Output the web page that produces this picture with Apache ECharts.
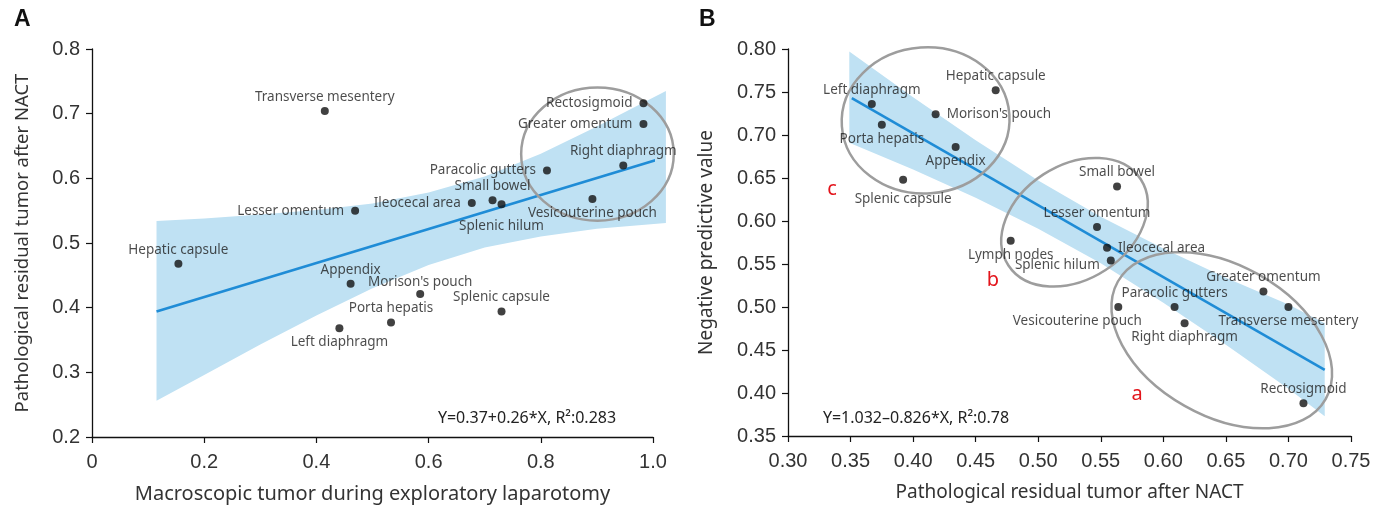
<!DOCTYPE html>
<html>
<head>
<meta charset="utf-8">
<title>NACT residual tumor</title>
<script src="https://cdn.jsdelivr.net/npm/echarts@6/dist/echarts.min.js"></script>
<style>
  * { margin: 0; padding: 0; }
  body { background: #fff; }
  #main { width: 1386px; height: 510px; }
</style>
</head>
<body>
<div id="main"></div>
<script type="text/javascript">
// ---- panel A: macroscopic tumor vs pathological residual tumor ----
var aNames = ['Transverse mesentery', 'Rectosigmoid', 'Greater omentum', 'Right diaphragm',
  'Paracolic gutters', 'Small bowel', 'Ileocecal area', 'Splenic hilum', 'Lesser omentum',
  'Vesicouterine pouch', 'Hepatic capsule', 'Appendix', "Morison's pouch", 'Splenic capsule',
  'Porta hepatis', 'Left diaphragm'];
var aX = [0.415, 0.983, 0.983, 0.947, 0.811, 0.714, 0.677, 0.730, 0.469, 0.892, 0.154, 0.461, 0.585, 0.730, 0.533, 0.441];
var aY = [0.704, 0.716, 0.684, 0.620, 0.612, 0.566, 0.562, 0.560, 0.550, 0.568, 0.468, 0.437, 0.421, 0.394, 0.377, 0.368];
var aFitX = [0.115, 1.023];
var aFitY = [0.394, 0.633];
var aBandX = [0.115, 0.2, 0.3, 0.4, 0.5, 0.6, 0.7, 0.8, 0.9, 1.023];
var aBandLo = [0.256, 0.296, 0.343, 0.388, 0.430, 0.466, 0.493, 0.510, 0.522, 0.531];
var aBandHi = [0.534, 0.538, 0.544, 0.551, 0.561, 0.578, 0.603, 0.638, 0.680, 0.735];
// ellipse: centre x, centre y, radius along x, radius along y, tilt (deg)
var aCircles = [[0.901, 0.6375, 0.136, 0.103, 0]];
var aXTicks = [0, 1, 0.2];          // min, max, step
var aYTicks = [0.2, 0.8, 0.1];

// ---- panel B: pathological residual tumor vs NPV ----
var bNames = ['Hepatic capsule', 'Left diaphragm', "Morison's pouch", 'Porta hepatis', 'Appendix',
  'Splenic capsule', 'Small bowel', 'Lesser omentum', 'Lymph nodes', 'Ileocecal area', 'Splenic hilum',
  'Greater omentum', 'Paracolic gutters', 'Vesicouterine pouch', 'Transverse mesentery',
  'Right diaphragm', 'Rectosigmoid'];
var bX = [0.466, 0.367, 0.418, 0.375, 0.434, 0.392, 0.563, 0.547, 0.478, 0.555, 0.558, 0.680, 0.609, 0.564, 0.700, 0.617, 0.712];
var bY = [0.752, 0.736, 0.724, 0.712, 0.686, 0.648, 0.640, 0.593, 0.577, 0.569, 0.554, 0.518, 0.500, 0.500, 0.500, 0.481, 0.388];
var bFitX = [0.351, 0.729];
var bFitY = [0.743, 0.427];
var bBandX = [0.349, 0.40, 0.45, 0.50, 0.55, 0.60, 0.65, 0.70, 0.729];
var bBandLo = [0.691, 0.660, 0.627, 0.591, 0.551, 0.505, 0.456, 0.405, 0.373];
var bBandHi = [0.797, 0.744, 0.694, 0.647, 0.605, 0.568, 0.534, 0.503, 0.481];
var bCircles = [
  [0.410, 0.717, 0.0671, 0.0849, 4],    // c
  [0.529, 0.5986, 0.0631, 0.0663, 33],  // b
  [0.6467, 0.4613, 0.0954, 0.0876, -29.5] // a
];
var bXTicks = [0.30, 0.75, 0.05];
var bYTicks = [0.35, 0.80, 0.05];

// label placement: [position, dx, dy]
var aPlace = {
  'Transverse mesentery': ['top'], 'Rectosigmoid': ['left'], 'Greater omentum': ['left'],
  'Right diaphragm': ['top'], 'Paracolic gutters': ['left'], 'Small bowel': ['top'],
  'Ileocecal area': ['left'], 'Splenic hilum': ['bottom', 0, 8], 'Lesser omentum': ['left'],
  'Vesicouterine pouch': ['bottom'], 'Hepatic capsule': ['top'], 'Appendix': ['top'],
  "Morison's pouch": ['top', 0, 2], 'Splenic capsule': ['top'], 'Porta hepatis': ['top'],
  'Left diaphragm': ['bottom']
};
var bPlace = {
  'Hepatic capsule': ['top'], 'Left diaphragm': ['top'], "Morison's pouch": ['right'],
  'Porta hepatis': ['bottom'], 'Appendix': ['bottom'], 'Splenic capsule': ['bottom', 0, 5],
  'Small bowel': ['top'], 'Lesser omentum': ['top'], 'Lymph nodes': ['bottom'],
  'Ileocecal area': ['right'], 'Splenic hilum': ['left', 0, 5], 'Greater omentum': ['top'],
  'Paracolic gutters': ['top'], 'Vesicouterine pouch': ['bottom', -41, 0],
  'Transverse mesentery': ['bottom'], 'Right diaphragm': ['bottom'], 'Rectosigmoid': ['top']
};

var TICK_FONT = '"Liberation Sans", Arial, sans-serif';
var TEXT_FONT = '"Noto Sans", "Open Sans", sans-serif';

var myChart = echarts.init(document.getElementById('main'), null, { renderer: 'canvas' });

function valueAxis(idx, ticks, digits, name, gap, labelMargin, nameSize) {
  return {
    type: 'value',
    gridIndex: idx,
    min: ticks[0],
    max: ticks[1],
    interval: ticks[2],
    name: name,
    nameLocation: 'middle',
    nameGap: gap,
    nameTextStyle: { fontFamily: TEXT_FONT, fontSize: nameSize, color: '#333' },
    axisLine: { show: true, onZero: false, lineStyle: { color: '#111', width: 1.3 } },
    axisTick: { show: true, length: 6, lineStyle: { color: '#111', width: 1.2 } },
    splitLine: { show: false },
    axisLabel: {
      margin: labelMargin,
      fontFamily: TICK_FONT,
      fontSize: 20,
      color: '#333',
      formatter: function (v) { return v === 0 ? '0' : v.toFixed(digits); }
    }
  };
}

function scatterData(names, xs, ys, place) {
  return names.map(function (n, i) {
    var p = place[n] || ['top'];
    var side = p[0] === 'left' || p[0] === 'right';
    return {
      name: n,
      value: [xs[i], ys[i]],
      label: { position: p[0], distance: side ? 7 : 3, offset: [p[1] || 0, p[2] || 0] }
    };
  });
}

function bandSeries(idx, bx, lo, hi) {
  return {
    type: 'custom',
    xAxisIndex: idx, yAxisIndex: idx,
    z: 1, silent: true,
    data: bx.map(function (x, i) { return [x, lo[i], hi[i]]; }),
    encode: { x: 0, y: [1, 2] },
    renderItem: function (params, api) {
      if (params.dataIndex !== 0) return;
      var pts = [];
      for (var i = 0; i < bx.length; i++) pts.push(api.coord([bx[i], hi[i]]));
      for (var j = bx.length - 1; j >= 0; j--) pts.push(api.coord([bx[j], lo[j]]));
      return { type: 'polygon', shape: { points: pts }, style: { fill: '#bfe1f3' } };
    }
  };
}

function ellipseSeries(idx, list) {
  return {
    type: 'custom',
    xAxisIndex: idx, yAxisIndex: idx,
    z: 4, silent: true, clip: false,
    data: list,
    encode: { x: 0, y: 1 },
    renderItem: function (params, api) {
      var c = api.coord([api.value(0), api.value(1)]);
      var s = api.size([api.value(2), api.value(3)]);
      return {
        type: 'ellipse',
        x: c[0], y: c[1],
        rotation: api.value(4) * Math.PI / 180,
        shape: { cx: 0, cy: 0, rx: s[0], ry: s[1] },
        style: { fill: 'none', stroke: '#9d9d9d', lineWidth: 2.5 }
      };
    }
  };
}

function fitSeries(idx, fx, fy) {
  return {
    type: 'line',
    xAxisIndex: idx, yAxisIndex: idx,
    z: 3, silent: true,
    showSymbol: false, symbol: 'none',
    lineStyle: { color: '#1f8cd6', width: 2.6 },
    data: fx.map(function (x, i) { return [x, fy[i]]; })
  };
}

function pointSeries(idx, data) {
  return {
    type: 'scatter',
    xAxisIndex: idx, yAxisIndex: idx,
    z: 5,
    symbolSize: 8,
    itemStyle: { color: '#111' },
    label: {
      show: true,
      formatter: '{b}',
      fontFamily: TEXT_FONT,
      fontSize: 13.5,
      color: '#1e1e1e'
    },
    data: data
  };
}

function txt(x, y, s, font, color, align) {
  return {
    type: 'text', x: x, y: y, z: 10,
    style: { text: s, font: font, fill: color || '#222', align: align || 'center', verticalAlign: 'middle' }
  };
}

var option = {
  animation: false,
  grid: [
    { left: 92, top: 49, width: 561, height: 388 },
    { left: 788, top: 49, width: 563, height: 387 }
  ],
  xAxis: [
    valueAxis(0, aXTicks, 1, 'Macroscopic tumor during exploratory laparotomy', 47, 15, 20),
    valueAxis(1, bXTicks, 2, 'Pathological residual tumor after NACT', 47, 15, 19)
  ],
  yAxis: [
    valueAxis(0, aYTicks, 1, 'Pathological residual tumor after NACT', 60, 12, 18.5),
    valueAxis(1, bYTicks, 2, 'Negative predictive value', 72, 12, 19)
  ],
  graphic: [
    txt(14, 20, 'A', 'bold 23px "Liberation Sans", Arial', '#111', 'left'),
    txt(699, 20, 'B', 'bold 23px "Liberation Sans", Arial', '#111', 'left'),
    txt(527, 418, 'Y=0.37+0.26*X, R\u00b2:0.283', '16px ' + TEXT_FONT),
    txt(916, 418, 'Y=1.032\u20130.826*X, R\u00b2:0.78', '16px ' + TEXT_FONT),
    txt(832, 189, 'c', '20px ' + TEXT_FONT, '#e3141b'),
    txt(993, 280, 'b', '20px ' + TEXT_FONT, '#e3141b'),
    txt(1137, 394, 'a', '20px ' + TEXT_FONT, '#e3141b')
  ],
  series: [
    bandSeries(0, aBandX, aBandLo, aBandHi),
    fitSeries(0, aFitX, aFitY),
    ellipseSeries(0, aCircles),
    pointSeries(0, scatterData(aNames, aX, aY, aPlace)),
    bandSeries(1, bBandX, bBandLo, bBandHi),
    fitSeries(1, bFitX, bFitY),
    ellipseSeries(1, bCircles),
    pointSeries(1, scatterData(bNames, bX, bY, bPlace))
  ]
};
myChart.setOption(option);

window.addEventListener('resize', function () {
  myChart.resize();
});
</script>
</body>
</html>
